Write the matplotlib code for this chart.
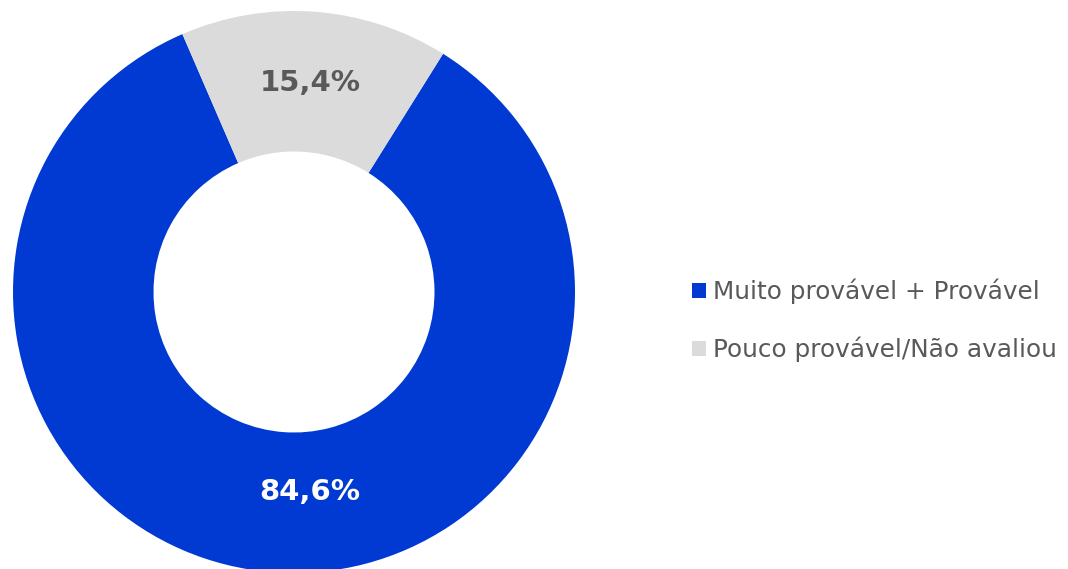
import matplotlib
matplotlib.use("Agg")
import matplotlib.pyplot as plt
import numpy as np

categories = ["Muito provável + Provável", "Pouco provável/Não avaliou"]
values = [84.6, 15.4]
labels = ["84,6%", "15,4%"]
colors = ["#003AD2", "#DBDBDB"]
label_colors = ["white", "#595959"]

plt.rcParams['font.family'] = ['DejaVu Sans']

W, H = 1068, 569
fig = plt.figure(figsize=(W / 100, H / 100), dpi=100)
cx, cy, R = 294, 292, 281
ax = fig.add_axes([(cx - R) / W, (H - cy - R) / H, 2 * R / W, 2 * R / H])
wedges, _ = ax.pie(values, colors=colors, startangle=113.4, counterclock=True,
                   radius=1.0, wedgeprops=dict(width=0.5, linewidth=0))
ax.set_xlim(-1, 1)
ax.set_ylim(-1, 1)
ax.set_aspect('equal')
ax.axis('off')

# label positions
g = wedges[1]
mid = np.deg2rad((g.theta1 + g.theta2) / 2)
ax.text(0.75 * np.cos(mid), 0.745 * np.sin(mid), labels[1], ha='center', va='center',
        fontsize=21, fontweight='bold', color=label_colors[1])
b = wedges[0]
mid_b = np.deg2rad((b.theta1 + b.theta2) / 2)
ax.text(-0.75 * np.cos(mid_b), 0.715 * np.sin(mid_b), labels[0], ha='center', va='center',
        fontsize=21, fontweight='bold', color=label_colors[0])

fig.legend(wedges, categories, loc='center left', bbox_to_anchor=(692 / W, 1 - 320.5 / H),
           frameon=False, fontsize=17.8, labelcolor='#595959', handlelength=0.55,
           handleheight=0.55, handletextpad=0.3, labelspacing=1.3,
           borderpad=0, borderaxespad=0)

fig.savefig("out.png", dpi=100)
